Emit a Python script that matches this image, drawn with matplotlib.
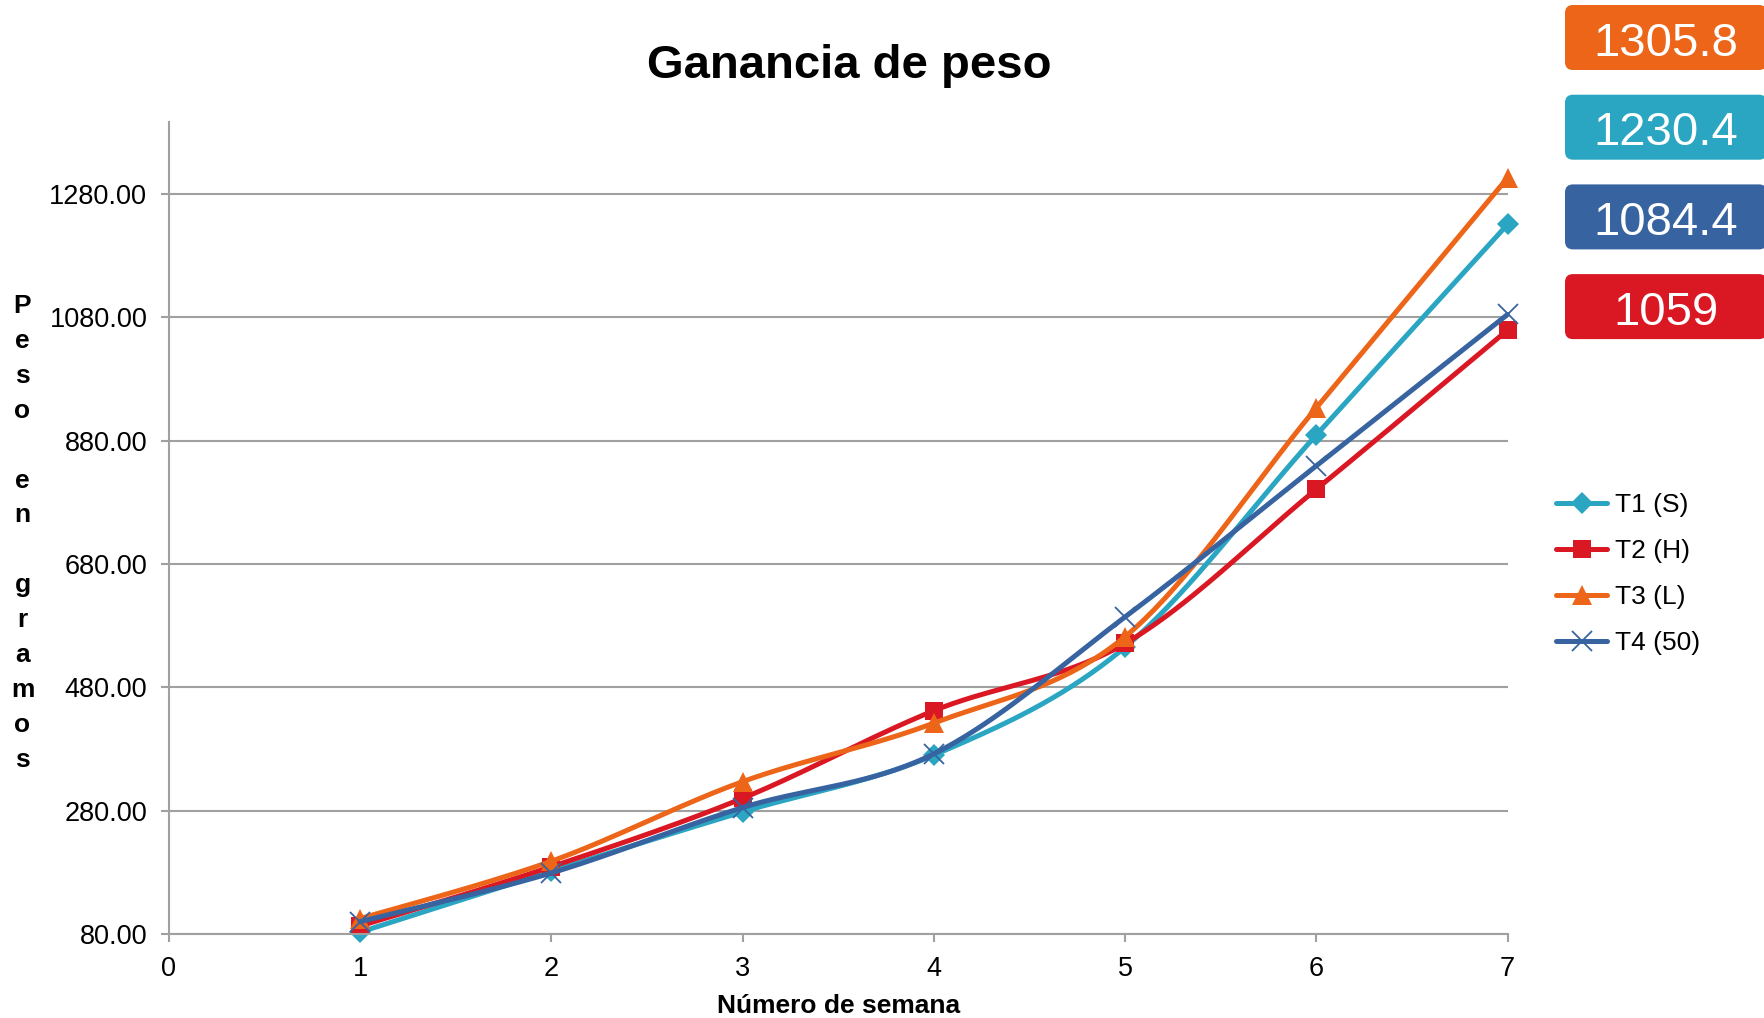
import numpy as np
import matplotlib.pyplot as plt
from matplotlib.patches import FancyBboxPatch

plt.rcParams['font.family'] = ['Liberation Sans', 'DejaVu Sans']

# datos
semanas = [1, 2, 3, 4, 5, 6, 7]
t1_s = [83, 182, 278, 370, 545, 889, 1230.4]
t2_h = [93, 189, 300, 442, 551, 801, 1059]
t3_l = [105, 198, 327, 422, 562, 933, 1305.8]
t4_50 = [100, 179, 285, 372, 594, 839, 1084.4]

nombres = ['T1 (S)', 'T2 (H)', 'T3 (L)', 'T4 (50)']
colores = ['#2AA6C3', '#DA1824', '#EC6518', '#3763A0']
marcadores = ['D', 's', '^', 'x']
tam_marca = [11, 13, 14, 14]

finales = ['1305.8', '1230.4', '1084.4', '1059']
colores_finales = ['#EC6518', '#2AA6C3', '#3763A0', '#DA1824']

y_ticks = [80, 280, 480, 680, 880, 1080, 1280]
x_ticks = [0, 1, 2, 3, 4, 5, 6, 7]
titulo_y = 'Peso en gramos'


def suavizar(x, y, n=40):
    # curva tipo Excel (bezier catmull-rom)
    x = np.asarray(x, float)
    y = np.asarray(y, float)
    px = np.concatenate([[x[0]], x, [x[-1]]])
    py = np.concatenate([[y[0]], y, [y[-1]]])
    t = np.linspace(0, 1, n)
    xs, ys = [], []
    for i in range(1, len(px) - 2):
        for p, out in ((px, xs), (py, ys)):
            p0, p1, p2, p3 = p[i - 1], p[i], p[i + 1], p[i + 2]
            c1 = p1 + (p2 - p0) / 6
            c2 = p2 - (p3 - p1) / 6
            b = (1 - t) ** 3 * p1 + 3 * (1 - t) ** 2 * t * c1 + 3 * (1 - t) * t ** 2 * c2 + t ** 3 * p2
            out.extend(b)
    return np.array(xs), np.array(ys)


fig = plt.figure(figsize=(17.64, 10.18), dpi=100)
ax = fig.add_axes([0.0957, 0.0825, 0.7589, 0.798])

gris = '#A0A0A0'
for serie, nom, col, m, ms in zip([t1_s, t2_h, t3_l, t4_50], nombres, colores, marcadores, tam_marca):
    sx, sy = suavizar(semanas, serie)
    ax.plot(sx, sy, color=col, lw=3.6, solid_capstyle='round', clip_on=False)
    ax.plot(semanas, serie, ls='none', marker=m, ms=ms, color=col,
            mew=1.3 if m == 'x' else 0, clip_on=False)
    ax.plot([], [], color=col, lw=3.6, marker=m, ms=ms, mew=1.3 if m == 'x' else 0,
            solid_capstyle='round', label=nom)

ax.set_xlim(0, 7)
ax.set_ylim(80, 1397)
ax.set_xticks(x_ticks)
ax.set_yticks(y_ticks)
ax.set_yticklabels(['%.2f' % v for v in y_ticks])
ax.yaxis.grid(True, color=gris, lw=1.5)
ax.set_axisbelow(True)
for s in ['top', 'right']:
    ax.spines[s].set_visible(False)
for s in ['left', 'bottom']:
    ax.spines[s].set_color(gris)
    ax.spines[s].set_linewidth(1.5)
ax.tick_params(axis='both', colors=gris, width=1.5, length=6, labelsize=19.5,
               labelcolor='black', pad=9.5)

ax.set_xlabel('Número de semana', fontsize=19, fontweight='bold', labelpad=9)
fig.text(849 / 1764, 1 - 65.5 / 1018, 'Ganancia de peso', ha='center', va='center',
         fontsize=34, fontweight='bold')

# titulo vertical letra por letra
letras = list(titulo_y.replace(' ', '  ').replace('  ', ' '))
y0 = 306
for i, ch in enumerate(letras):
    if ch != ' ':
        fig.text(22.5 / 1764, 1 - (y0 + i * 34.9) / 1018, ch, ha='center', va='center',
                 fontsize=19, fontweight='bold')

leg = fig.legend(loc='center left', bbox_to_anchor=(0.8821, 1 - 574 / 1018),
                 frameon=False, fontsize=19, handlelength=1.95, handletextpad=0.28,
                 borderpad=0, borderaxespad=0, labelspacing=0.83, numpoints=1)

# recuadros con valores finales
ov = fig.add_axes([0, 0, 1, 1])
ov.set_xlim(0, 1764)
ov.set_ylim(1018, 0)
ov.axis('off')
r = 8
for i, (txt, col) in enumerate(zip(finales, colores_finales)):
    top = 5 + i * 89.7
    caja = FancyBboxPatch((1565 + r, top + r), 202 - 2 * r, 65 - 2 * r,
                          boxstyle='round,pad=%d' % r, fc=col, ec='none')
    ov.add_patch(caja)
    ov.text(1666, top + 38.5, txt, ha='center', va='center', fontsize=34, color='white')

plt.savefig('out.png', dpi=100)
